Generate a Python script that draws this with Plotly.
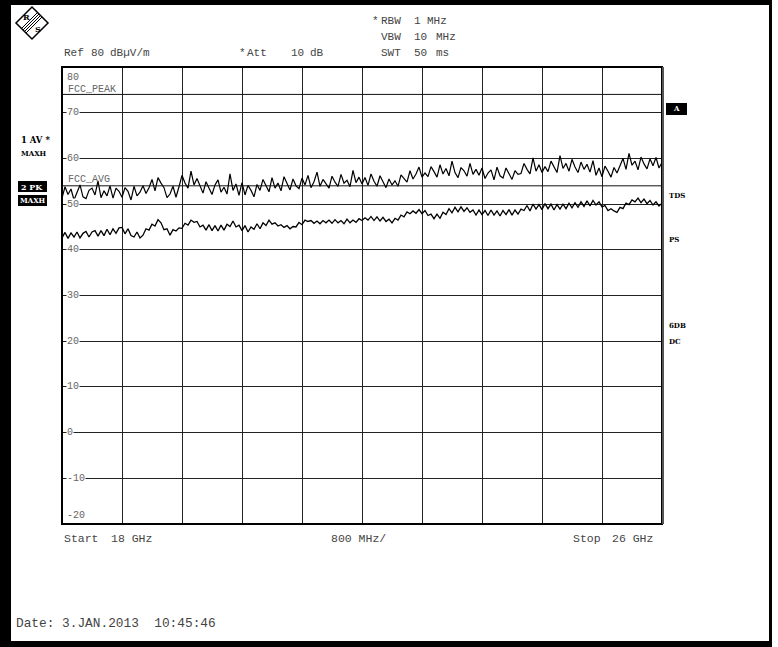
import numpy as np
import plotly.graph_objects as go

# Sweep settings of the analyzer screen
start_ghz = 18.0
stop_ghz = 26.0
div_ghz = 0.8
ref_level = 80
bottom_level = -20

# Trace 2: peak detector, max hold (dBµV/m)
peak_dbuv = [
    51.3, 53.8, 52.1, 53.3, 50.9, 52.6, 54.2, 51.6, 51.2, 53.0, 53.5, 52.0, 55.1, 51.4, 52.9, 51.8, 54.0, 51.3, 53.5, 52.8,
    51.5, 53.6, 52.8, 50.9, 53.9, 51.8, 52.6,
    54.0, 52.3, 53.6, 55.4, 52.9, 55.8, 54.6,
    53.6, 51.4, 52.2, 53.9, 51.5,
    53.8, 56.3, 54.6, 53.5, 57.2, 54.2, 55.6, 54.0,
    52.4, 54.9, 53.3, 52.1, 54.2, 55.3, 52.6, 53.7, 52.2, 56.6, 53.0, 54.4, 51.9, 54.7,
    52.0, 54.1, 53.0, 51.6, 54.3,
    53.0, 55.4, 54.1, 52.7, 55.8, 53.5, 54.6, 52.9, 56.0, 54.4, 53.1, 55.5, 54.0,
    53.4, 55.7, 54.2, 56.3, 53.6, 54.9, 57.0, 53.9, 55.4, 54.3, 53.5, 56.1, 54.8, 53.9, 56.5, 54.6, 55.2, 53.8, 57.4, 54.7, 55.9, 54.4,
    55.8, 54.1, 56.6, 55.0, 53.9, 56.2, 54.7, 53.6, 55.5, 54.2,
    55.1, 53.9, 56.4, 55.6, 54.8, 57.3, 55.5, 56.6, 58.1, 55.9, 56.8,
    56.0, 58.2, 57.1, 55.9, 58.6, 56.6, 57.8, 56.2, 59.4, 56.9, 55.8, 58.0, 57.3, 56.1, 58.9, 56.5, 57.6, 56.3,
    57.9, 55.6, 56.8, 57.5, 55.3, 58.1, 56.2, 55.7, 57.9, 56.6, 55.4, 57.3, 56.5,
    56.7, 58.9, 57.6, 56.6, 60.1, 57.2, 58.6, 56.9, 58.2,
    57.1, 59.4, 58.0, 56.9, 60.6, 57.8, 58.9, 57.2, 59.8, 58.1, 56.9, 59.2, 57.6, 58.7, 57.0, 59.5,
    56.3, 57.9, 56.0, 58.3, 57.2, 55.9, 58.0, 56.8,
    58.4, 60.0, 57.6, 61.1, 58.5, 59.4, 57.5, 60.3, 58.8, 57.7, 59.9, 58.4, 60.2, 57.9, 59.1,
]

# Trace 1: average detector, max hold (dBµV/m)
avg_dbuv = [
    42.6, 43.8, 42.5, 43.7, 42.8, 43.9, 42.6, 43.6, 44.0, 42.8, 43.9, 44.2, 43.0, 44.2, 43.1, 44.5, 43.3, 44.6, 43.6, 44.8,
    44.9, 43.5, 44.6, 43.1, 42.8, 43.9, 42.6,
    43.2, 44.6, 44.3, 45.6, 45.2, 46.6,
    45.9, 44.4, 44.6, 43.2,
    44.4, 44.1, 44.8, 44.7, 45.8, 45.4, 46.5, 46.0,
    46.2, 45.0, 45.4, 44.3, 45.5, 44.2, 45.3, 44.1, 45.4, 44.3, 45.6,
    45.1, 46.3,
    45.0, 45.4, 44.2, 45.3, 43.9,
    45.0, 44.5, 45.7, 44.6, 45.9, 45.3, 46.5, 45.6,
    45.9, 45.2, 45.5, 44.9, 45.3, 44.6, 45.1,
    45.0, 46.0, 45.5, 46.5, 46.2,
    46.4, 45.8, 46.3, 45.7, 46.4, 45.9, 46.5, 45.8, 46.6, 45.9, 46.4, 45.7, 46.7, 45.9, 46.5, 46.0, 46.8,
    46.4, 47.0, 46.5, 47.3, 46.4, 47.2, 46.3, 47.1, 46.2, 46.7, 45.9,
    46.9, 46.5, 47.6, 47.2, 48.3, 47.9, 48.5, 48.0, 48.8, 47.9, 48.6,
    47.5, 47.8, 46.8,
    47.8, 46.9, 48.2, 47.7, 49.0, 48.1, 49.3, 48.3, 49.4, 48.4, 49.2, 48.2,
    48.7, 47.6, 48.7, 47.7, 48.6, 47.5, 48.7, 47.6, 48.5, 47.4, 48.6, 47.7, 48.8, 47.6, 48.7, 47.8, 48.9,
    48.6, 49.7, 48.5, 50.0, 48.9, 49.9, 48.8, 50.1, 49.0, 50.0, 48.7, 49.9, 48.9,
    50.0, 49.0, 50.2, 49.2, 50.3, 49.3, 50.5, 49.5, 50.7, 49.6, 50.8, 49.8, 50.5,
    49.4, 49.7, 48.6, 49.0, 48.5, 48.2,
    49.3, 49.0, 50.2, 49.9, 50.9, 50.5, 51.3,
    50.3, 51.1, 50.1, 50.8, 49.8, 50.5, 49.6, 50.2,
]

# Display lines
fcc_peak_limit = 74
fcc_avg_limit = 54

level_ticks = [80, 70, 60, 50, 40, 30, 20, 10, 0, -10, -20]

# Screen geometry (pixels)
W, H = 778, 647
L, R, T, B = 62, 662, 67, 524


def px(X):
    return (X - L) / (R - L)


def py(Y):
    return (B - Y) / (B - T)


freq_ghz = np.linspace(start_ghz, stop_ghz, len(peak_dbuv))

fig = go.Figure()
fig.add_trace(go.Scatter(x=freq_ghz, y=avg_dbuv, mode="lines",
                         line=dict(color="black", width=1.3), name="1 AV"))
fig.add_trace(go.Scatter(x=freq_ghz, y=peak_dbuv, mode="lines",
                         line=dict(color="black", width=1.2), name="2 PK"))

shapes = []
# Display lines FCC_PEAK / FCC_AVG
for lvl in (fcc_peak_limit, fcc_avg_limit):
    shapes.append(dict(type="line", xref="paper", yref="y", x0=0, x1=1, y0=lvl, y1=lvl,
                       line=dict(color="#111", width=1)))
# Grid frame
shapes.append(dict(type="rect", xref="paper", yref="paper", x0=0, x1=1, y0=0, y1=1,
                   line=dict(color="black", width=2)))
shapes.append(dict(type="line", xref="paper", yref="paper", x0=px(663), x1=px(663), y0=0, y1=1,
                   line=dict(color="#555", width=2)))
# Screen border
for (x0, y0, x1, y1) in [(0, 0, 772, 5), (0, 0, 11, 647), (769, 0, 772, 643), (0, 641, 772, 647)]:
    shapes.append(dict(type="rect", xref="paper", yref="paper", x0=px(x0), x1=px(x1),
                       y0=py(y1), y1=py(y0), line=dict(width=0), fillcolor="black"))
# Marker boxes
for (x0, y0, x1, y1) in [(666, 103, 687, 115), (18, 181, 47, 192), (18, 195, 47, 206)]:
    shapes.append(dict(type="rect", xref="paper", yref="paper", x0=px(x0), x1=px(x1),
                       y0=py(y1), y1=py(y0), line=dict(width=0), fillcolor="black"))
# Logo: diamond with hatched band
cx, cy, hd = 32, 23, 16
path = "M {} {} L {} {} L {} {} L {} {} Z".format(
    px(cx), py(cy - hd), px(cx + hd), py(cy), px(cx), py(cy + hd), px(cx - hd), py(cy))
shapes.append(dict(type="path", xref="paper", yref="paper", path=path,
                   line=dict(color="black", width=1.5)))
for t in (5.5, 7.0, 8.5, 10.0):
    shapes.append(dict(type="line", xref="paper", yref="paper",
                       x0=px(cx + t), y0=py(cy - hd + t), x1=px(cx - hd + t), y1=py(cy + t),
                       line=dict(color="black", width=1)))

mono = "Liberation Mono, Courier New, monospace"
serif = "DejaVu Serif, Liberation Serif, serif"
annotations = []


def text(X, Y, s, size=11, color="#444", family=mono, anchor="left", bg=None, bold=False):
    annotations.append(dict(
        xref="paper", yref="paper", x=px(X), y=py(Y), text=("<b>%s</b>" % s) if bold else s,
        showarrow=False, xanchor=anchor, yanchor="middle",
        font=dict(family=family, size=size, color=color),
        bgcolor=bg, borderpad=0))


# Header settings
for X, Y, s in [(63, 53, "Ref"), (90, 53, "80"), (109, 53, "dBµV/m"),
                (238, 53, "*"), (246, 53, "Att"), (290, 53, "10"), (309, 53, "dB"),
                (371, 21, "*"), (380, 21, "RBW"), (413, 21, "1"), (426, 21, "MHz"),
                (380, 37, "VBW"), (413, 37, "10"), (435, 37, "MHz"),
                (380, 53, "SWT"), (413, 53, "50"), (435, 53, "ms")]:
    text(X, Y, s)

# Frequency annotation under the grid
text(63, 538, "Start", size=11.5)
text(110, 538, "18 GHz", size=11.5)
text(330, 538, "800 MHz/", size=11.5)
text(572, 538, "Stop", size=11.5)
text(611, 538, "26 GHz", size=11.5)
text(15, 623, "Date: 3.JAN.2013  10:45:46", size=12.8)

# Level labels inside the grid
for lvl in level_ticks:
    Y = B - (lvl - bottom_level) / (ref_level - bottom_level) * (B - T)
    if lvl == ref_level:
        Y += 10
    elif lvl == bottom_level:
        Y -= 9
    text(66, Y, str(lvl), size=10, color="#666", bg="white")

text(67, 89, "FCC_PEAK", size=10, color="#666")
text(67, 179, "FCC_AVG", size=10, color="#666")

# Trace and status labels
text(20, 140, "1 AV *", size=8.5, color="black", family=serif, bold=True)
text(20, 153, "MAXH", size=7, color="black", family=serif, bold=True)
text(20, 186.5, "2 PK", size=8, color="white", family=serif, bold=True)
text(19, 200.5, "MAXH", size=7, color="white", family=serif, bold=True)
text(676.5, 109, "A", size=7, color="white", family=serif, anchor="center", bold=True)
for Y, s in [(196, "TDS"), (240, "PS"), (325, "6DB"), (341, "DC")]:
    text(668, Y, s, size=7, color="black", family=serif, bold=True)
text(26, 17, "R", size=8, color="black", family=serif, anchor="center", bold=True)
text(38, 29, "S", size=8, color="black", family=serif, anchor="center", bold=True)

fig.update_layout(
    width=W, height=H,
    margin=dict(l=L, r=W - R, t=T, b=H - B, pad=0),
    paper_bgcolor="white", plot_bgcolor="white",
    showlegend=False,
    shapes=shapes, annotations=annotations,
    xaxis=dict(range=[start_ghz, stop_ghz], tick0=start_ghz, dtick=div_ghz,
               showgrid=True, gridcolor="#222", gridwidth=1,
               showticklabels=False, zeroline=False, showline=False, ticks=""),
    yaxis=dict(range=[bottom_level, ref_level], tick0=0, dtick=10,
               showgrid=True, gridcolor="#222", gridwidth=1,
               showticklabels=False, zeroline=False, showline=False, ticks=""),
)

fig.write_html("out.html")
